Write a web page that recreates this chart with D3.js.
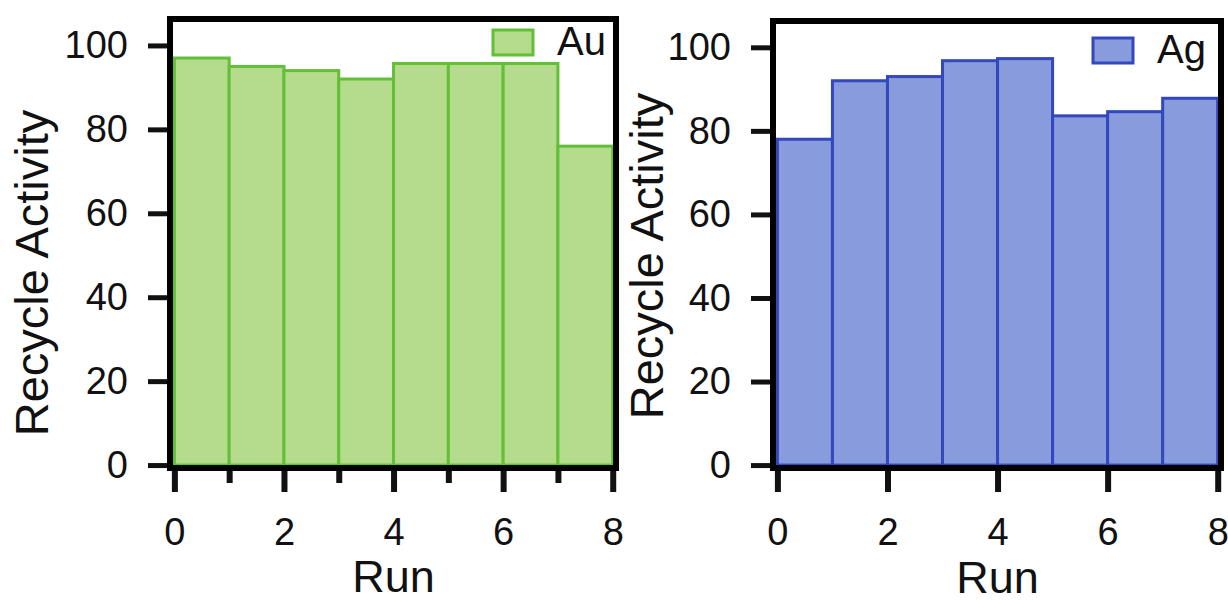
<!DOCTYPE html>
<html>
<head>
<meta charset="utf-8">
<script src="https://cdn.jsdelivr.net/npm/d3@7/dist/d3.min.js"></script>
<style>
  html, body { margin: 0; padding: 0; background: #fff; }
  svg { display: block; }
  text { font-family: "Liberation Sans", Arial, Helvetica, sans-serif; fill: #111; }
</style>
</head>
<body>
<svg id="chart" width="1228" height="603"></svg>
<script>
// Recycle activity per run for the two catalysts
const runs = [0, 1, 2, 3, 4, 5, 6, 7];
const auValues = [97, 95, 94, 92, 95.7, 95.7, 95.7, 76];
const agValues = [78, 92, 93, 96.8, 97.3, 83.6, 84.6, 87.8];
const xTickValues = [0, 2, 4, 6, 8];
const xMinorTickValues = [1, 3, 5, 7];
const yTickValues = [0, 20, 40, 60, 80, 100];
const seriesNames = ["Au", "Ag"];
const yTitle = "Recycle Activity";
const xTitle = "Run";

const svg = d3.select("#chart");

const panels = [
  {
    name: seriesNames[0], values: auValues,
    frame: { x0: 170, x1: 616, y0: 19, y1: 468 },
    fill: "#b5dc8d", stroke: "#63bf38",
    minor: true, yTitleX: 48, yTitleY: 273, xTitleY: 592,
    legend: { x: 493, y: 30 }
  },
  {
    name: seriesNames[1], values: agValues,
    frame: { x0: 773, x1: 1221, y0: 21, y1: 468 },
    fill: "#879bdd", stroke: "#3248bc",
    minor: false, yTitleX: 663, yTitleY: 256, xTitleY: 593,
    legend: { x: 1093, y: 38 }
  }
];

panels.forEach(p => {
  const f = p.frame;
  const x = d3.scaleLinear().domain([-0.08, 8.06]).range([f.x0, f.x1]);
  const y = d3.scaleLinear().domain([-0.7, 106.3]).range([f.y1, f.y0]);
  const g = svg.append("g");

  // bars: one per run, spanning [run, run + 1]
  g.selectAll("rect.bar")
    .data(runs.map((r, i) => ({ run: r, value: p.values[i] })))
    .join("rect")
    .attr("class", "bar")
    .attr("x", d => x(d.run))
    .attr("width", d => x(d.run + 1) - x(d.run))
    .attr("y", d => y(d.value))
    .attr("height", d => y(0) - y(d.value))
    .attr("fill", p.fill)
    .attr("stroke", p.stroke)
    .attr("stroke-width", 3);

  // y axis ticks and labels
  const yAxis = d3.axisLeft(y).tickValues(yTickValues).tickSize(22).tickPadding(20);
  const ya = g.append("g").attr("transform", `translate(${f.x0},0)`).call(yAxis);
  ya.select(".domain").remove();
  ya.selectAll(".tick line").attr("stroke", "#111").attr("stroke-width", 5);
  ya.selectAll(".tick text").attr("font-size", 38).attr("fill", "#111")
    .attr("font-family", "Liberation Sans, Arial, sans-serif");

  // x axis major ticks and labels
  const xAxis = d3.axisBottom(x).tickValues(xTickValues).tickSize(22).tickPadding(26);
  const xa = g.append("g").attr("transform", `translate(0,${f.y1 + 2})`).call(xAxis);
  xa.select(".domain").remove();
  xa.selectAll(".tick line").attr("stroke", "#111").attr("stroke-width", 6);
  xa.selectAll(".tick text").attr("font-size", 38).attr("fill", "#111")
    .attr("font-family", "Liberation Sans, Arial, sans-serif");

  // minor x ticks
  if (p.minor) {
    const xm = d3.axisBottom(x).tickValues(xMinorTickValues).tickSize(13).tickFormat("");
    const xma = g.append("g").attr("transform", `translate(0,${f.y1 + 2})`).call(xm);
    xma.select(".domain").remove();
    xma.selectAll(".tick line").attr("stroke", "#111").attr("stroke-width", 6);
  }

  // plot frame
  g.append("rect")
    .attr("x", f.x0).attr("y", f.y0)
    .attr("width", f.x1 - f.x0).attr("height", f.y1 - f.y0)
    .attr("fill", "none").attr("stroke", "#000").attr("stroke-width", 6);

  // axis titles
  g.append("text")
    .attr("transform", `translate(${p.yTitleX},${p.yTitleY}) rotate(-90)`)
    .attr("text-anchor", "middle").attr("font-size", 47)
    .text(yTitle);
  g.append("text")
    .attr("x", (x(0) + x(8)) / 2).attr("y", p.xTitleY)
    .attr("text-anchor", "middle").attr("font-size", 45)
    .text(xTitle);

  // legend
  g.append("rect")
    .attr("x", p.legend.x).attr("y", p.legend.y)
    .attr("width", 40).attr("height", 25)
    .attr("fill", p.fill).attr("stroke", p.stroke).attr("stroke-width", 3);
  g.append("text")
    .attr("x", p.legend.x + 64).attr("y", p.legend.y + 25)
    .attr("font-size", 40)
    .text(p.name);
});
</script>
</body>
</html>
